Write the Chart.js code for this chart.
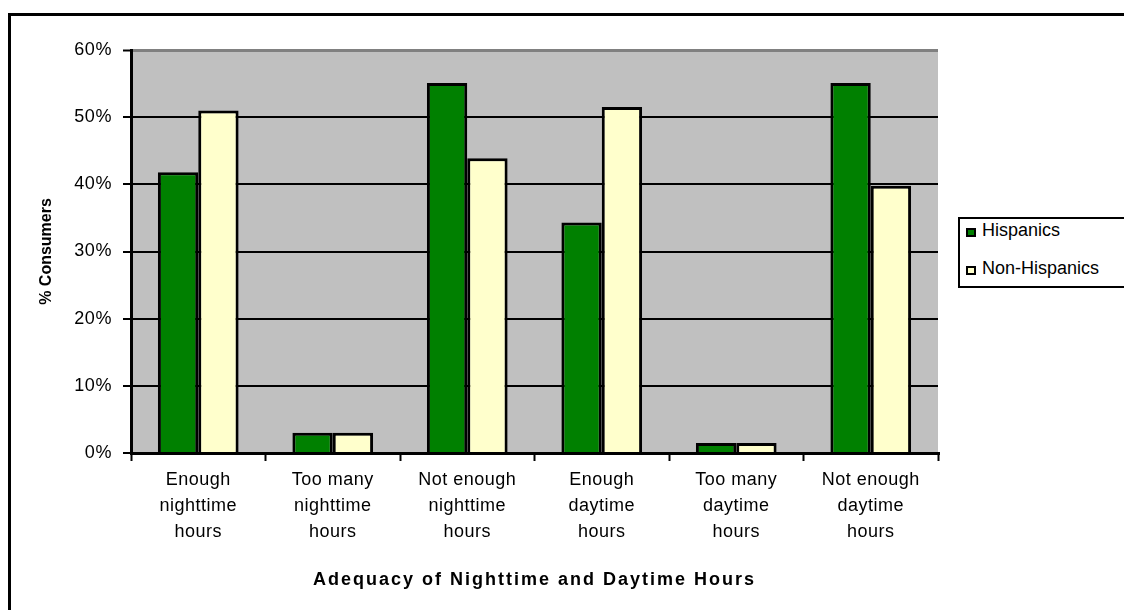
<!DOCTYPE html>
<html lang="en">
<head>
<meta charset="UTF-8">
<title>Adequacy of Nighttime and Daytime Hours</title>
<script src="https://cdn.jsdelivr.net/npm/chart.js"></script>
<style>
    body {
        margin: 0;
        width: 1124px;
        height: 610px;
        overflow: hidden;
        background: #fff;
        font-family: 'Liberation Sans', Arial, sans-serif;
        position: relative;
    }
    .frame {
        position: absolute;
        left: 8px;
        top: 13px;
        width: 1200px;
        height: 700px;
        border: 3px solid #000;
        box-sizing: border-box;
    }
    .chart-box {
        position: absolute;
        left: 0;
        top: 0;
        width: 1124px;
        height: 610px;
    }
    /* legend box on the right */
    .legend {
        position: absolute;
        left: 958px;
        top: 217px;
        width: 200px;
        height: 71px;
        border: 2px solid #000;
        box-sizing: border-box;
        background: #fff;
        font-size: 18px;
        color: #000;
    }
    .legend .item {
        position: absolute;
        left: 6px;
        white-space: nowrap;
    }
    .legend .swatch {
        display: inline-block;
        width: 6px;
        height: 5px;
        border: 2px solid #000;
        margin-right: 6px;
        vertical-align: -1px;
    }
</style>
</head>
<body>
<div class="frame"></div>
<div class="chart-box"><canvas id="chart" width="1124" height="610"></canvas></div>
<div class="legend">
    <div class="item" style="top:1px"><span class="swatch" style="background:#008000"></span>Hispanics</div>
    <div class="item" style="top:39px"><span class="swatch" style="background:#FFFFCC"></span>Non-Hispanics</div>
</div>

<script>
    const categories = [
        ['Enough', 'nighttime', 'hours'],
        ['Too many', 'nighttime', 'hours'],
        ['Not enough', 'nighttime', 'hours'],
        ['Enough', 'daytime', 'hours'],
        ['Too many', 'daytime', 'hours'],
        ['Not enough', 'daytime', 'hours']
    ];
    const hispanics = [41.8, 3.0, 55.1, 34.3, 1.5, 55.1];
    const nonHispanics = [51.0, 3.0, 43.9, 51.5, 1.5, 39.8];
    const yTicks = [0, 10, 20, 30, 40, 50, 60];

    const plotBackground = {
        id: 'plotBackground',
        beforeDraw(chart) {
            const { ctx, chartArea: a } = chart;
            ctx.save();
            ctx.fillStyle = '#C0C0C0';
            ctx.fillRect(a.left, a.top, a.right - a.left, a.bottom - a.top);
            ctx.restore();
        }
    };

    // the old Excel text is spread a bit wider than plain Arial
    function spaced(scale, method, spacing) {
        if (scale['_sp_' + method]) return;
        const orig = scale[method];
        scale[method] = function (...args) {
            const c = this.ctx;
            const prev = c.letterSpacing;
            c.letterSpacing = spacing;
            orig.apply(this, args);
            c.letterSpacing = prev;
        };
        scale['_sp_' + method] = true;
    }

    const family = "'Liberation Sans', Arial, sans-serif";

    new Chart(document.getElementById('chart'), {
        type: 'bar',
        data: {
            labels: categories,
            datasets: [
                {
                    label: 'Hispanics',
                    data: hispanics,
                    backgroundColor: '#008000',
                    borderColor: '#000',
                    borderWidth: 3
                },
                {
                    label: 'Non-Hispanics',
                    data: nonHispanics,
                    backgroundColor: '#FFFFCC',
                    borderColor: '#000',
                    borderWidth: 3
                }
            ]
        },
        options: {
            responsive: false,
            animation: false,
            layout: { padding: { top: 50, right: 186, bottom: 0, left: 0 } },
            datasets: { bar: { categoryPercentage: 0.6, barPercentage: 1.0 } },
            plugins: {
                legend: { display: false },
                tooltip: { enabled: false }
            },
            scales: {
                y: {
                    min: 0,
                    max: 60,
                    afterFit(scale) {
                        scale.width = 131;
                        spaced(scale, 'drawLabels', '0.6px');
                    },
                    afterBuildTicks(scale) { scale.ticks = yTicks.map(v => ({ value: v })); },
                    ticks: {
                        color: '#000',
                        font: { family: family, size: 18 },
                        padding: 11,
                        callback: v => v + '%'
                    },
                    grid: {
                        color: ctx => ctx.tick && ctx.tick.value === 60 ? '#808080' : '#000',
                        lineWidth: ctx => ctx.tick && ctx.tick.value === 60 ? 3 : 2,
                        tickColor: '#000',
                        tickLength: 8,
                        tickWidth: 2
                    },
                    border: { color: '#000', width: 3 },
                    title: {
                        display: true,
                        text: '% Consumers',
                        color: '#000',
                        font: { family: family, size: 16, weight: 'bold' },
                        padding: { top: 37, bottom: 0 }
                    }
                },
                x: {
                    afterFit(scale) {
                        scale.height = 157;
                        spaced(scale, 'drawLabels', '0.5px');
                        spaced(scale, 'drawTitle', '2px');
                    },
                    ticks: {
                        color: '#000',
                        font: { family: family, size: 18, lineHeight: 1.444 },
                        padding: 6,
                        maxRotation: 0,
                        autoSkip: false
                    },
                    grid: {
                        offset: true,
                        color: ctx => ctx.index === categories.length ? '#808080' : 'rgba(0,0,0,0)',
                        lineWidth: 3,
                        tickColor: '#000',
                        tickLength: 8,
                        tickWidth: 2
                    },
                    border: { color: '#000', width: 3 },
                    title: {
                        display: true,
                        text: 'Adequacy of Nighttime and Daytime Hours',
                        color: '#000',
                        font: { family: family, size: 18, weight: 'bold' },
                        padding: { top: 0, bottom: 19 }
                    }
                }
            }
        },
        plugins: [plotBackground]
    });
</script>
</body>
</html>
